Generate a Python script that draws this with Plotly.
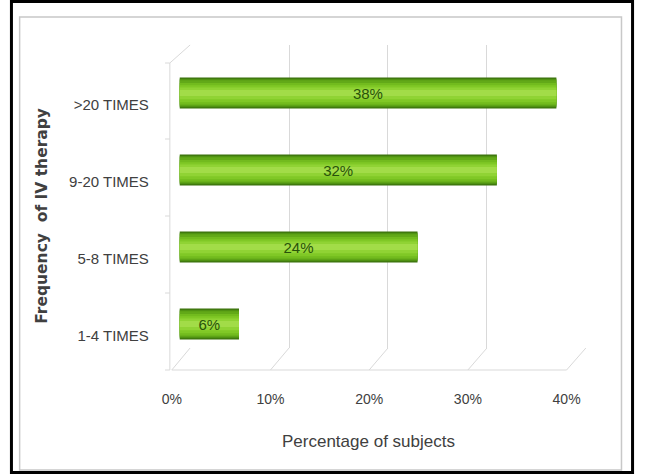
import plotly.graph_objects as go

W, H = 648, 474

categories = ["1-4 TIMES", "5-8 TIMES", "9-20 TIMES", ">20 TIMES"]
percent = [6, 24, 32, 38]
tick_vals = [0, 10, 20, 30, 40]
tick_text = ["0%", "10%", "20%", "30%", "40%"]


def px(x):
    return x / W


def py(y):
    return 1 - y / H


FONT = "Liberation Sans, Arial, sans-serif"
TXT = "#404040"
GRID = "#d9d9d9"

fig = go.Figure()

# subplot xy : back wall gridlines
fig.add_trace(go.Scatter(x=[0, 40], y=[0, 1], xaxis="x", yaxis="y", mode="markers",
                         marker=dict(opacity=0), showlegend=False, hoverinfo="skip"))
# subplot x2y2 : category labels and floor tick labels
fig.add_trace(go.Scatter(x=[0] * 4, y=categories, xaxis="x2", yaxis="y2", mode="markers",
                         marker=dict(opacity=0), showlegend=False, hoverinfo="skip"))

# subplot x3y3 : cylinder-like bars (stacked overlay layers)
layers = [
    (0.40, None, "#3a700c"),
    (0.37, None, "#4f9212"),
    (0.33, None, "#62a918"),
    (0.28, -0.15, "#72bb1e"),
    (0.22, -0.12, "#80c826"),
    (0.15, -0.08, "#90d334"),
    (0.08, -0.04, "#a2dc48"),
]
for w, off, col in layers:
    kw = dict(offset=off) if off is not None else {}
    fig.add_trace(go.Bar(x=percent, y=categories, orientation="h", xaxis="x3", yaxis="y3",
                         width=w, marker=dict(color=col, line=dict(width=0)),
                         showlegend=False, hoverinfo="skip", **kw))
fig.add_trace(go.Bar(x=percent, y=categories, orientation="h", xaxis="x3", yaxis="y3",
                     width=0.40, marker=dict(color="rgba(0,0,0,0)", line=dict(width=0)),
                     text=[f"{v}%" for v in percent], textposition="inside",
                     insidetextanchor="middle", constraintext="none",
                     textfont=dict(family=FONT, size=15, color="#28520a"),
                     showlegend=False, hoverinfo="skip"))

cat_axis = dict(type="category", categoryorder="array", categoryarray=categories,
                range=[-0.5, 3.5])


def bx(v):
    return 187 + v * 411 / 40


def fx(v):
    return 168 + v * 410 / 40


shapes = []
line_style = dict(color=GRID, width=1)
for v in tick_vals:
    shapes.append(dict(type="line", xref="paper", yref="paper", x0=px(bx(v)), y0=py(348),
                       x1=px(fx(v)), y1=py(370), line=line_style, layer="below"))
shapes.append(dict(type="line", xref="paper", yref="paper", x0=px(fx(0)), y0=py(370),
                   x1=px(fx(40)), y1=py(370), line=line_style, layer="below"))
shapes.append(dict(type="line", xref="paper", yref="paper", x0=px(166), y0=py(370),
                   x1=px(166), y1=py(63), line=line_style, layer="below"))
shapes.append(dict(type="line", xref="paper", yref="paper", x0=px(166), y0=py(63),
                   x1=px(187), y1=py(45), line=line_style, layer="below"))
for yy in [370, 293, 216, 139, 63]:
    shapes.append(dict(type="line", xref="paper", yref="paper", x0=px(161), y0=py(yy),
                       x1=px(166), y1=py(yy), line=line_style, layer="below"))
shapes.append(dict(type="rect", xref="paper", yref="paper", x0=px(10), y0=py(470),
                   x1=px(635), y1=py(17), line=dict(color="#c8c8c8", width=1.5)))
shapes.append(dict(type="rect", xref="paper", yref="paper", x0=px(1.5), y0=py(472.5),
                   x1=px(646.5), y1=py(1.5), line=dict(color="black", width=3)))

fig.update_layout(
    width=W, height=H, autosize=False,
    margin=dict(l=0, r=0, t=0, b=0),
    paper_bgcolor="white", plot_bgcolor="rgba(0,0,0,0)",
    barmode="overlay",
    font=dict(family=FONT, color=TXT),
    xaxis=dict(domain=[px(187), px(598)], range=[-0.05, 40.05], anchor="y",
               tickvals=tick_vals, showticklabels=False, showgrid=True, gridcolor=GRID,
               gridwidth=1, zeroline=False, showline=False, ticks=""),
    yaxis=dict(domain=[py(348), py(45)], anchor="x", visible=False, range=[0, 1]),
    xaxis2=dict(domain=[px(168), px(578)], range=[0, 40], anchor="free", position=py(370),
                tickvals=tick_vals, ticktext=tick_text, showgrid=False, zeroline=False,
                showline=False, ticks="", ticklabelstandoff=19,
                tickfont=dict(family=FONT, size=14, color=TXT)),
    yaxis2=dict(cat_axis, domain=[py(374), py(66)], anchor="free", position=px(166),
                showgrid=False, zeroline=False, showline=False, ticks="",
                ticklabelstandoff=21, tickfont=dict(family=FONT, size=15, color=TXT)),
    xaxis3=dict(domain=[px(176), px(588)], range=[0, 40], anchor="y3", visible=False),
    yaxis3=dict(cat_axis, domain=[py(362.5), py(54.5)], anchor="x3", visible=False),
    shapes=shapes,
    annotations=[
        dict(text="<b>Frequency  of IV therapy</b>", xref="paper", yref="paper",
             x=px(33), y=py(216), showarrow=False, textangle=-90,
             font=dict(family="DejaVu Sans, sans-serif", size=15.5, color=TXT),
             xanchor="center", yanchor="middle"),
        dict(text="Percentage of subjects", xref="paper", yref="paper", x=px(372), y=py(441),
             showarrow=False, font=dict(family=FONT, size=17, color=TXT),
             xanchor="center", yanchor="middle"),
    ],
)

fig.write_html("out.html", config={"responsive": False})
